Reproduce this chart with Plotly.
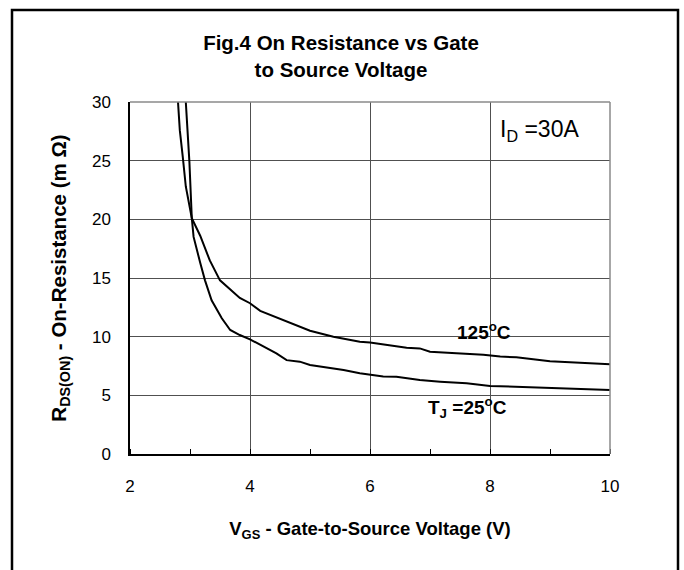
import plotly.graph_objects as go

# 125 degC curve
v_125 = [2.80, 2.83, 2.88, 2.93, 3.03, 3.17, 3.33, 3.50, 3.83, 4.00, 4.17, 4.50, 4.83,
         5.00, 5.39, 5.83, 6.00, 6.33, 6.61, 6.83, 7.00, 7.44, 7.89, 8.17, 8.44, 9.00, 10.0]
r_125 = [30.0, 27.6, 25.3, 22.8, 20.1, 18.6, 16.5, 14.8, 13.3, 12.85, 12.2, 11.5, 10.85,
         10.5, 10.0, 9.57, 9.5, 9.29, 9.05, 9.0, 8.72, 8.58, 8.45, 8.3, 8.24, 7.9, 7.65]

# 25 degC curve
v_25 = [2.93, 2.99, 3.03, 3.06, 3.17, 3.25, 3.36, 3.53, 3.67, 3.83, 4.00, 4.22, 4.44,
        4.61, 4.83, 5.00, 5.56, 5.83, 6.22, 6.44, 6.83, 7.17, 7.61, 8.00, 8.72, 10.0]
r_25 = [30.0, 24.9, 20.1, 18.5, 16.3, 14.8, 13.1, 11.57, 10.57, 10.14, 9.77, 9.15, 8.58,
        8.0, 7.87, 7.59, 7.16, 6.88, 6.6, 6.58, 6.3, 6.16, 6.02, 5.8, 5.66, 5.46]

x_ticks = [2, 4, 6, 8, 10]
y_ticks = [0, 5, 10, 15, 20, 25, 30]

title_text = "Fig.4 On Resistance vs Gate<br>to Source Voltage"
x_title = "V<sub>GS</sub> - Gate-to-Source Voltage (V)"
y_title = "R<sub>DS(ON)</sub> - On-Resistance (m Ω)"

FONT = "Liberation Sans, Arial, sans-serif"

fig = go.Figure()
fig.add_trace(go.Scatter(x=v_125, y=r_125, mode="lines",
                         line=dict(color="black", width=2), showlegend=False))
fig.add_trace(go.Scatter(x=v_25, y=r_25, mode="lines",
                         line=dict(color="black", width=2), showlegend=False))

W, H = 684, 570
L, R, T, B = 130, 74, 102, 116
pw, ph = W - L - R, H - T - B

def px_x(p):
    return (p - L) / pw

def px_y(p):
    return (H - B - p) / ph

shapes = [
    # outer frame
    dict(type="rect", xref="paper", yref="paper",
         x0=px_x(12), x1=px_x(678), y0=px_y(575), y1=px_y(10),
         line=dict(color="black", width=2.5), fillcolor="rgba(0,0,0,0)", layer="above"),
    # top & right plot border in gray
    dict(type="line", xref="paper", yref="paper", x0=0, x1=1, y0=1, y1=1,
         line=dict(color="#8a8a8a", width=1.5), layer="above"),
    dict(type="line", xref="paper", yref="paper", x0=1, x1=1, y0=0, y1=1,
         line=dict(color="#8a8a8a", width=1.5), layer="above"),
    # white boxes behind labels (cover grid)
    dict(type="rect", xref="x", yref="y", x0=7.28, x1=8.87, y0=9.5, y1=12.4,
         fillcolor="white", line=dict(width=0), layer="below"),
    dict(type="rect", xref="x", yref="y", x0=6.8, x1=8.47, y0=2.2, y1=5.15,
         fillcolor="white", line=dict(width=0), layer="below"),
]

annotations = [
    dict(x=7.9, y=10.5, xref="x", yref="y", text="<b>125<sup>o</sup>C</b>", showarrow=False,
         font=dict(family=FONT, size=19, color="black")),
    dict(x=7.62, y=4.0, xref="x", yref="y", text="<b>T<sub>J</sub> =25<sup>o</sup>C</b>", showarrow=False,
         font=dict(family=FONT, size=19, color="black")),
    dict(x=8.83, y=27.6, xref="x", yref="y", text="I<sub>D</sub> =30A", showarrow=False,
         font=dict(family=FONT, size=23, color="black")),
]

fig.update_layout(
    width=W, height=H,
    margin=dict(l=L, r=R, t=T, b=B),
    paper_bgcolor="white", plot_bgcolor="white",
    font=dict(family=FONT, color="black"),
    title=dict(text="<b>" + title_text + "</b>", x=341 / W, xref="container", xanchor="center",
               y=1 - 50 / H, yref="container", yanchor="middle",
               font=dict(family=FONT, size=20.5, color="black")),
    shapes=shapes,
    annotations=annotations,
    xaxis=dict(range=[2, 10], tickvals=x_ticks, ticktext=[str(v) for v in x_ticks],
               showgrid=True, gridcolor="#505050", gridwidth=1,
               showline=True, linecolor="black", linewidth=1.5,
               zeroline=False, ticks="", ticklabelstandoff=16,
               tickfont=dict(family=FONT, size=17, color="black"),
               minor=dict(ticks="inside", dtick=1, tick0=2, ticklen=5, tickcolor="black",
                          tickwidth=1, showgrid=False),
               title=dict(text="<b>" + x_title + "</b>", standoff=27,
                          font=dict(family=FONT, size=18.5, color="black"))),
    yaxis=dict(range=[0, 30], tickvals=y_ticks, ticktext=[str(v) for v in y_ticks],
               showgrid=True, gridcolor="#505050", gridwidth=1,
               showline=True, linecolor="black", linewidth=1.5,
               zeroline=False, ticks="", ticklabelstandoff=14,
               tickfont=dict(family=FONT, size=17, color="black"),
               title=dict(text="<b>" + y_title + "</b>", standoff=20,
                          font=dict(family=FONT, size=20.5, color="black"))),
)

fig.write_html("out.html", config={"displayModeBar": False},
               post_script="document.body.style.margin='0';document.body.style.overflow='hidden';")
